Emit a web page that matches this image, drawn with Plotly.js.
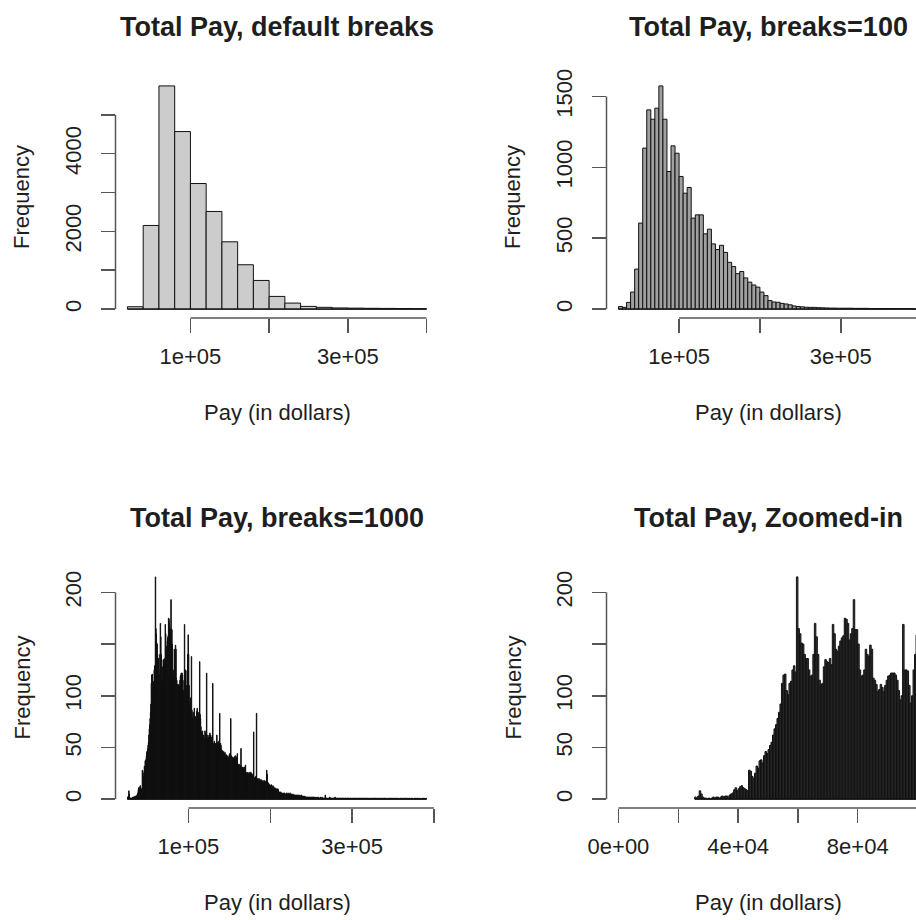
<!DOCTYPE html>
<html>
<head>
<meta charset="utf-8">
<script src="https://cdn.plot.ly/plotly-3.0.1.min.js"></script>
<style>
  html, body { margin: 0; padding: 0; background: #ffffff; }
  #chart { width: 916px; height: 920px; }
</style>
</head>
<body>
<div id="chart"></div>
<script>
// Histograms of total pay drawn at four bin resolutions.

// ---- shared x tick marks ----
const payTicks = [100000, 200000, 300000, 400000];
const payTickText = ['1e+05', '', '3e+05', ''];
const zoomTicks = [0, 20000, 40000, 60000, 80000, 100000];
const zoomTickText = ['0e+00', '', '4e+04', '', '8e+04', ''];
const zoomLimits = [0, 100000];

// ---- default breaks: 20,000-dollar bins from 20,000 to 400,000 ----
const defaultStart = 20000;
const defaultWidth = 20000;
const defaultCounts = [60, 2153, 5746, 4571, 3233, 2513, 1732, 1141, 737, 326,
                       154, 69, 45, 30, 24, 20, 17, 14, 9];
const defaultYTicks = [0, 1000, 2000, 3000, 4000, 5000];
const defaultYText = ['0', '', '2000', '', '4000', ''];

// ---- breaks=100: 5,000-dollar bins from 25,000 to 395,000 ----
const b100Start = 25000;
const b100Width = 5000;
const b100Counts = [18, 12, 47, 120, 282, 607, 1136, 1406, 1340, 1418,
                    1575, 1340, 971, 1152, 1100, 936, 818, 858, 642, 665,
                    665, 531, 564, 460, 420, 450, 400, 330, 300, 250,
                    265, 220, 190, 170, 155, 120, 95, 60, 50, 48,
                    40, 36, 30, 22, 18, 16, 13, 12, 12, 10,
                    9, 8, 7, 7, 6, 6, 6, 6, 5, 5,
                    5, 5, 4, 4, 4, 4, 4, 3, 4, 3,
                    3, 3, 3, 1];
const b100YTicks = [0, 500, 1000, 1500];
const b100YText = ['0', '500', '1000', '1500'];

// ---- breaks=1000: 500-dollar bins from 25,500 to 391,000 ----
const b1000Start = 25500;
const b1000Width = 500;
const b1000Counts = [
  2, 1, 3, 8, 5, 2, 1, 1, 0,
  1, 0, 1, 2, 1, 2, 2, 1, 2, 3,
  2, 3, 3, 2, 4, 5, 6, 9, 11, 8,
  10, 12, 13, 11, 10, 9, 8, 28, 27, 22,
  20, 25, 32, 30, 37, 38, 35, 42, 46, 44,
  48, 52, 55, 62, 68, 72, 78, 84, 92, 112,
  120, 121, 105, 101, 112, 114, 125, 129, 123, 215,
  165, 160, 151, 150, 140, 136, 136, 125, 119, 120,
  140, 170, 157, 140, 115, 111, 112, 128, 135, 133,
  132, 136, 130, 169, 160, 145, 143, 148, 153, 156,
  158, 175, 174, 170, 154, 160, 165, 193, 164, 164,
  150, 125, 119, 120, 125, 145, 140, 138, 149, 145,
  117, 115, 111, 104, 106, 111, 108, 104, 110, 115,
  119, 120, 122, 122, 122, 120, 115, 105, 96, 100,
  169, 125, 125, 124, 110, 93, 100, 125, 140, 159,
  140, 110, 92, 85, 98, 88, 80, 138, 86, 76,
  78, 84, 80, 76, 88, 74, 72, 80, 70, 78,
  85, 88, 82, 78, 80, 84, 78, 133, 82, 78,
  70, 65, 62, 60, 66, 58, 62, 60, 56, 58,
  66, 62, 64, 60, 122, 62, 58, 56, 60, 58,
  62, 60, 64, 58, 62, 56, 60, 58, 54, 112,
  54, 52, 50, 56, 52, 48, 54, 50, 52, 62,
  55, 52, 54, 50, 56, 50, 83, 52, 54, 52,
  48, 46, 44, 47, 45, 43, 46, 44, 42, 45,
  42, 40, 43, 41, 40, 39, 42, 40, 38, 40,
  44, 42, 40, 78, 42, 40, 41, 39, 40, 38,
  40, 38, 41, 39, 42, 37, 40, 38, 41, 44,
  34, 33, 32, 34, 31, 33, 30, 32, 49, 32,
  31, 30, 29, 31, 28, 30, 29, 31, 28, 33,
  26, 25, 24, 26, 25, 23, 25, 24, 26, 25,
  25, 24, 26, 23, 25, 22, 24, 23, 22, 65,
  20, 21, 19, 20, 22, 18, 83, 19, 20, 18,
  19, 18, 20, 17, 19, 18, 17, 19, 16, 18,
  17, 16, 18, 15, 17, 16, 18, 15, 17, 16,
  16, 28, 24, 15, 16, 14, 15, 13, 14, 12,
  13, 12, 14, 11, 12, 10, 13, 11, 12, 10,
  10, 11, 9, 10, 9, 10, 8, 9, 10, 9,
  7, 6, 7, 5, 6, 7, 5, 6, 6, 5,
  5, 6, 4, 5, 6, 4, 5, 5, 4, 6,
  5, 4, 5, 6, 4, 5, 4, 5, 6, 4,
  4, 5, 3, 4, 4, 5, 3, 4, 4, 4,
  4, 3, 4, 3, 4, 4, 3, 4, 3, 4,
  3, 3, 4, 2, 3, 3, 4, 3, 2, 3,
  2, 3, 2, 2, 3, 2, 2, 2, 2, 2,
  2, 2, 2, 1, 2, 2, 2, 2, 1, 2,
  2, 1, 2, 2, 1, 2, 2, 1, 2, 1,
  1, 2, 1, 1, 2, 1, 1, 2, 1, 1,
  1, 1, 2, 1, 1, 1, 2, 1, 1, 1,
  1, 1, 1, 1, 4, 1, 1, 1, 1, 0,
  1, 1, 1, 0, 1, 2, 1, 1, 1, 1,
  1, 0, 1, 1, 1, 1, 0, 1, 2, 1,
  1, 1, 0, 1, 1, 1, 1, 0, 1, 1,
  0, 1, 1, 1, 0, 1, 1, 1, 0, 1,
  1, 0, 1, 1, 1, 0, 1, 0, 1, 1,
  1, 1, 0, 1, 0, 1, 1, 0, 1, 0,
  1, 0, 1, 0, 1, 1, 0, 1, 1, 0,
  0, 1, 1, 0, 1, 0, 1, 0, 1, 1,
  1, 0, 0, 1, 1, 0, 1, 1, 0, 1,
  0, 1, 1, 0, 0, 1, 0, 1, 1, 0,
  1, 0, 1, 0, 1, 0, 1, 0, 0, 1,
  0, 1, 0, 1, 0, 1, 1, 0, 1, 0,
  1, 0, 0, 1, 0, 1, 0, 1, 0, 1,
  0, 1, 0, 0, 1, 0, 1, 0, 1, 0,
  1, 0, 1, 0, 0, 1, 0, 0, 1, 0,
  0, 1, 0, 1, 0, 0, 1, 0, 1, 0,
  1, 0, 0, 1, 0, 1, 0, 0, 1, 0,
  0, 1, 0, 0, 1, 0, 0, 1, 0, 1,
  0, 0, 1, 0, 1, 0, 0, 1, 0, 0,
  1, 0, 0, 1, 0, 0, 1, 0, 0, 1,
  0, 1, 0, 0, 0, 1, 0, 1, 0, 0,
  0, 0, 1, 0, 1, 0, 0, 0, 1, 0,
  1, 0, 0, 1, 0, 0, 1, 0, 0, 0,
  0, 1, 0, 0, 1, 0, 0, 1, 0, 0,
  0, 1
];
const b1000YTicks = [0, 50, 100, 150, 200];
const b1000YText = ['0', '50', '100', '', '200'];

// ---- page geometry (pixels) ----
const W = 916, H = 920;
const FONT = 'Liberation Sans, Arial, Helvetica, sans-serif';
const INK = '#1e1e1e';
const AXIS_INK = '#555555';
const TEXT_SIZE = 22;
const TITLE_SIZE = 27;

const panels = [
  { title: 'Total Pay, default breaks', counts: defaultCounts, start: defaultStart, width: defaultWidth,
    xlim: null, xTicks: payTicks, xText: payTickText, yTicks: defaultYTicks, yText: defaultYText,
    box: [115.5, 438.5, 77, 318], fill: '#cccccc' },
  { title: 'Total Pay, breaks=100', counts: b100Counts, start: b100Start, width: b100Width,
    xlim: null, xTicks: payTicks, xText: payTickText, yTicks: b100YTicks, yText: b100YText,
    box: [606.5, 929.5, 77, 318], fill: '#a0a0a0' },
  { title: 'Total Pay, breaks=1000', counts: b1000Counts, start: b1000Start, width: b1000Width,
    xlim: null, xTicks: payTicks, xText: payTickText, yTicks: b1000YTicks, yText: b1000YText,
    box: [115.5, 438.5, 568, 808], fill: '#202020' },
  { title: 'Total Pay, Zoomed-in', counts: b1000Counts, start: b1000Start, width: b1000Width,
    xlim: zoomLimits, xTicks: zoomTicks, xText: zoomTickText, yTicks: b1000YTicks, yText: b1000YText,
    box: [606.5, 929.5, 568, 808], fill: '#3c3c3c' }
];

const traces = [];
const layout = {
  width: W, height: H,
  margin: { l: 0, r: 0, t: 0, b: 0, pad: 0 },
  paper_bgcolor: '#ffffff', plot_bgcolor: '#ffffff',
  showlegend: false, bargap: 0, barmode: 'overlay',
  font: { family: FONT, color: INK },
  shapes: [], annotations: []
};

panels.forEach((p, i) => {
  const n = i === 0 ? '' : String(i + 1);
  const [left, right, top, bottom] = p.box;
  const lastBreak = p.start + p.width * p.counts.length;
  const xl = p.xlim || [p.start, lastBreak];
  const xpad = 0.04 * (xl[1] - xl[0]);
  const r0 = xl[0] - xpad, r1 = xl[1] + xpad;
  // Right-hand panels run past the page edge; keep the same scale and show only what fits.
  const visRight = Math.min(right, W);
  const r1Vis = r0 + (visRight - left) / (right - left) * (r1 - r0);
  const ymax = Math.max(...p.counts);
  const y0 = -0.04 * ymax, y1 = 1.04 * ymax;

  const toPX = v => left + (v - r0) / (r1 - r0) * (right - left);
  const toPY = v => bottom - (v - y0) / (y1 - y0) * (bottom - top);

  traces.push({
    type: 'bar',
    x: p.counts.map((_, k) => p.start + (k + 0.5) * p.width),
    y: p.counts,
    width: p.width,
    xaxis: 'x' + n, yaxis: 'y' + n,
    marker: { color: p.fill, line: { color: '#111111', width: 1 } },
    hoverinfo: 'skip'
  });

  layout['xaxis' + n] = {
    domain: [left / W, visRight / W], range: [r0, r1Vis], anchor: 'y' + n,
    showgrid: false, zeroline: false, showline: false,
    ticks: 'outside', ticklen: 14, tickwidth: 1.5, tickcolor: AXIS_INK,
    tickmode: 'array', tickvals: p.xTicks, ticktext: p.xText, tickangle: 0,
    ticklabelstandoff: 5,
    tickfont: { family: FONT, size: TEXT_SIZE, color: INK }, fixedrange: true
  };
  layout['yaxis' + n] = {
    domain: [1 - bottom / H, 1 - top / H], range: [y0, y1], anchor: 'x' + n,
    showgrid: false, zeroline: false, showline: false,
    ticks: 'outside', ticklen: 14, tickwidth: 1.5, tickcolor: AXIS_INK,
    tickmode: 'array', tickvals: p.yTicks, ticktext: p.yText, tickangle: -90,
    ticklabelstandoff: 11,
    tickfont: { family: FONT, size: TEXT_SIZE, color: INK }, fixedrange: true
  };

  // Axis lines span first to last tick, as in base graphics.
  layout.shapes.push({
    type: 'line', xref: 'paper', yref: 'paper',
    x0: toPX(p.xTicks[0]) / W, x1: toPX(p.xTicks[p.xTicks.length - 1]) / W,
    y0: 1 - bottom / H, y1: 1 - bottom / H,
    line: { color: AXIS_INK, width: 1.5 }
  });
  layout.shapes.push({
    type: 'line', xref: 'paper', yref: 'paper',
    x0: left / W, x1: left / W,
    y0: 1 - toPY(p.yTicks[0]) / H, y1: 1 - toPY(p.yTicks[p.yTicks.length - 1]) / H,
    line: { color: AXIS_INK, width: 1.5 }
  });
  // Baseline under every bin, including empty ones.
  layout.shapes.push({
    type: 'line', xref: 'paper', yref: 'paper',
    x0: Math.max(left, toPX(p.start)) / W, x1: Math.min(W, toPX(lastBreak)) / W,
    y0: 1 - toPY(0) / H, y1: 1 - toPY(0) / H,
    line: { color: '#111111', width: 1.2 }
  });

  const cx = (left + right) / 2;
  layout.annotations.push({
    text: '<b>' + p.title + '</b>', xref: 'paper', yref: 'paper',
    x: cx / W, y: 1 - (top - 50) / H, xanchor: 'center', yanchor: 'middle',
    showarrow: false, font: { family: FONT, size: TITLE_SIZE, color: INK }
  });
  layout.annotations.push({
    text: 'Pay (in dollars)', xref: 'paper', yref: 'paper',
    x: cx / W, y: 1 - (bottom + 94) / H, xanchor: 'center', yanchor: 'middle',
    showarrow: false, font: { family: FONT, size: TEXT_SIZE, color: INK }
  });
  layout.annotations.push({
    text: 'Frequency', xref: 'paper', yref: 'paper', textangle: -90,
    x: (left - 94) / W, y: 1 - ((top + bottom) / 2) / H, xanchor: 'center', yanchor: 'middle',
    showarrow: false, font: { family: FONT, size: TEXT_SIZE, color: INK }
  });
});

Plotly.newPlot('chart', traces, layout, { staticPlot: true, displayModeBar: false });
</script>
</body>
</html>
